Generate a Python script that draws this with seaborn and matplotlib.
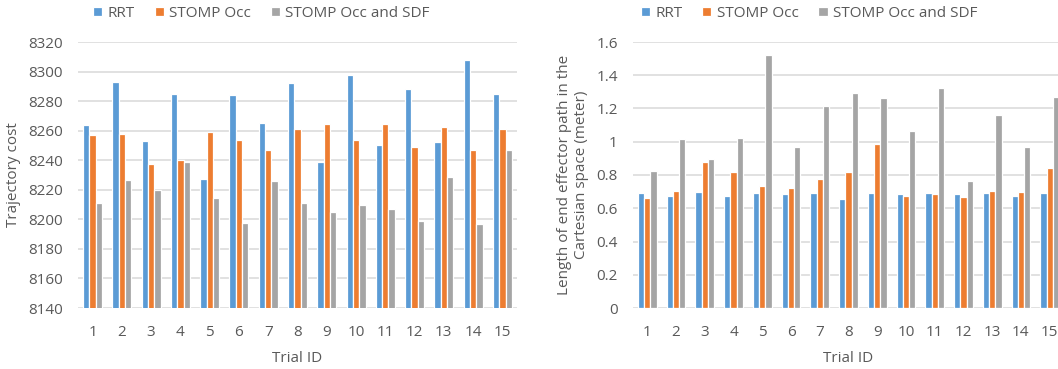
import numpy as np
import pandas as pd
import matplotlib
matplotlib.use("Agg")
import matplotlib.pyplot as plt
from matplotlib.ticker import FuncFormatter
import seaborn as sns

trials = [str(i) for i in range(1, 16)]
series_names = ["RRT", "STOMP Occ", "STOMP Occ and SDF"]

cost_rrt = [8263.5, 8293, 8253, 8285, 8227, 8284, 8265, 8292, 8238.5, 8297.5, 8250.5, 8288, 8252, 8308, 8285]
cost_occ = [8257, 8257.7, 8237.7, 8240.4, 8258.8, 8253.9, 8246.9, 8260.8, 8264.7, 8253.4, 8264.7, 8248.9, 8262.2, 8247.1, 8260.8]
cost_sdf = [8210.9, 8226.9, 8220, 8239, 8214.3, 8197.4, 8225.7, 8210.9, 8205, 8209.5, 8207.3, 8199.2, 8228.7, 8197, 8246.7]

len_rrt = [0.691, 0.671, 0.697, 0.671, 0.691, 0.687, 0.691, 0.653, 0.691, 0.683, 0.691, 0.683, 0.691, 0.675, 0.691]
len_occ = [0.663, 0.705, 0.879, 0.817, 0.731, 0.721, 0.773, 0.817, 0.989, 0.675, 0.687, 0.669, 0.705, 0.697, 0.841]
len_sdf = [0.823, 1.019, 0.897, 1.025, 1.524, 0.969, 1.217, 1.292, 1.264, 1.063, 1.326, 0.761, 1.159, 0.971, 1.272]

colors = ["#5B9BD5", "#ED7D31", "#A5A5A5"]
text_color = "#595959"
grid_color = "#D9D9D9"

sns.set_style("white")
plt.rcParams['font.family'] = ['Open Sans', 'DejaVu Sans']
plt.rcParams['font.size'] = 11


def long_df(a, b, c):
    rows = []
    for name, vals in zip(series_names, [a, b, c]):
        for t, v in zip(trials, vals):
            rows.append({"Trial ID": t, "value": v, "series": name})
    return pd.DataFrame(rows)


W, H = 1058, 369
fig = plt.figure(figsize=(W / 100, H / 100), dpi=100)
ax1 = fig.add_axes([78 / W, 1 - 308 / H, 439 / W, 266 / H])
ax2 = fig.add_axes([633 / W, 1 - 308 / H, 431 / W, 266 / H])

configs = [
    (ax1, long_df(cost_rrt, cost_occ, cost_sdf), (8140, 8320), np.arange(8140, 8321, 20),
     "Trajectory cost", 261.5),
    (ax2, long_df(len_rrt, len_occ, len_sdf), (0, 1.6), np.arange(0, 1.61, 0.2),
     "Length of end effector path in the\nCartesian space (meter)", 809),
]

for ax, df, ylim, yticks, ylabel, legx in configs:
    sns.barplot(data=df, x="Trial ID", y="value", hue="series", order=trials,
                hue_order=series_names, palette=colors, width=0.65, ax=ax,
                edgecolor="white", linewidth=0.9, saturation=1, errorbar=None)
    ax.set_ylim(*ylim)
    ax.set_yticks(yticks)
    ax.yaxis.set_major_formatter(FuncFormatter(lambda v, p: f"{v:g}"))
    ax.set_xlim(-0.5, 14.5)
    ax.set_axisbelow(True)
    ax.grid(axis="y", color=grid_color, linewidth=1.1)
    ax.grid(axis="x", visible=False)
    for s in ax.spines.values():
        s.set_visible(False)
    ax.tick_params(axis="both", length=0, colors=text_color, labelsize=11)
    ax.tick_params(axis="y", pad=11)
    ax.tick_params(axis="x", pad=12)
    ax.set_xlabel("Trial ID", color=text_color, fontsize=11, labelpad=8)
    ax.set_ylabel(ylabel, color=text_color, fontsize=11, labelpad=5)
    handles, labels = ax.get_legend_handles_labels()
    if ax.get_legend() is not None:
        ax.get_legend().remove()
    fig.legend(handles, labels, loc="center", bbox_to_anchor=(legx / W, 1 - 13.5 / H),
               ncol=3, frameon=False, fontsize=11, handlelength=0.6, handleheight=0.6,
               handletextpad=0.35, columnspacing=1.3, labelcolor=text_color,
               borderaxespad=0, borderpad=0)

fig.savefig("out.png", dpi=100)
